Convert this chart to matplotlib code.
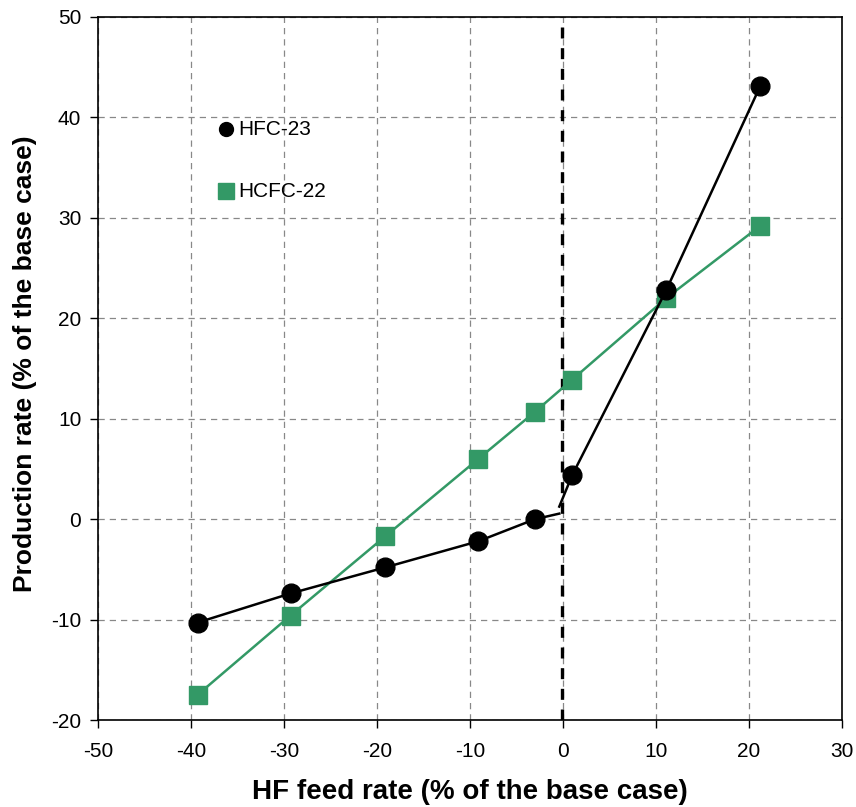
import matplotlib
matplotlib.use("Agg")
import matplotlib.pyplot as plt

plt.rcParams['font.family'] = ['Liberation Sans', 'DejaVu Sans']
plt.rcParams['axes.unicode_minus'] = False

hf_x = [-39.3, -29.3, -19.1, -9.1, -3.0, 1.0, 11.1, 21.2]
hfc23 = [-10.3, -7.4, -4.8, -2.2, 0.0, 4.4, 22.8, 43.1]
hcfc22 = [-17.5, -9.6, -1.7, 6.0, 10.7, 13.9, 22.0, 29.2]
# line ends at the base-case boundary (x≈0)
hfc23_left_end = (-0.4, 0.55)
hfc23_right_start = (-0.4, 1.25)
xticks = [-50, -40, -30, -20, -10, 0, 10, 20, 30]
yticks = [-20, -10, 0, 10, 20, 30, 40, 50]

green = '#339966'

fig = plt.figure(figsize=(8.56, 8.07), dpi=100)
ax = fig.add_axes([98/856, 1-720/807, (842-98)/856, (720-17)/807])

ax.set_xlim(-50, 30)
ax.set_ylim(-20, 50)
ax.set_xticks(xticks)
ax.set_yticks(yticks)
ax.grid(True, color='#888888', linestyle=(0, (5, 4)), linewidth=0.9)
ax.set_axisbelow(True)

# vertical dashed line at base case
ax.plot([-0.1, -0.1], [-20, 50], color='black', linestyle=(0, (3.3, 2.9)), linewidth=2.4, zorder=2)

# HCFC-22
ax.plot(hf_x, hcfc22, color=green, linewidth=1.8, marker='s', markersize=12.5,
        markerfacecolor=green, markeredgecolor=green, zorder=3)

# HFC-23 (split at the base case)
left_x = hf_x[:5] + [hfc23_left_end[0]]
left_y = hfc23[:5] + [hfc23_left_end[1]]
right_x = [hfc23_right_start[0]] + hf_x[5:]
right_y = [hfc23_right_start[1]] + hfc23[5:]
ax.plot(left_x, left_y, color='black', linewidth=1.8, zorder=4)
ax.plot(right_x, right_y, color='black', linewidth=1.8, zorder=4)
ax.plot(hf_x, hfc23, linestyle='none', marker='o', markersize=13.5,
        markerfacecolor='black', markeredgecolor='black', zorder=5)

# legend-like labels
ax.plot([-36.2], [38.8], marker='o', markersize=10, color='black', linestyle='none')
ax.text(-34.9, 38.8, 'HFC-23', fontsize=15, va='center', ha='left')
ax.plot([-36.2], [32.7], marker='s', markersize=11.5, color=green, linestyle='none')
ax.text(-34.9, 32.6, 'HCFC-22', fontsize=15, va='center', ha='left')

ax.tick_params(direction='out', length=6, width=1, labelsize=15)
ax.tick_params(axis='x', pad=10)
ax.tick_params(axis='y', pad=6)
for s in ax.spines.values():
    s.set_linewidth(1.2)

xl = ax.set_xlabel('HF feed rate (% of the base case)', fontsize=20, fontweight='bold')
yl = ax.set_ylabel('Production rate (% of the base case)', fontsize=19, fontweight='bold')
ax.xaxis.set_label_coords(0.5, (720-792)/703, transform=ax.transAxes)
ax.yaxis.set_label_coords((25-98)/744, (720-364)/703, transform=ax.transAxes)
xl.set_va('center')
yl.set_va('center')

fig.savefig('out.png', dpi=100)
